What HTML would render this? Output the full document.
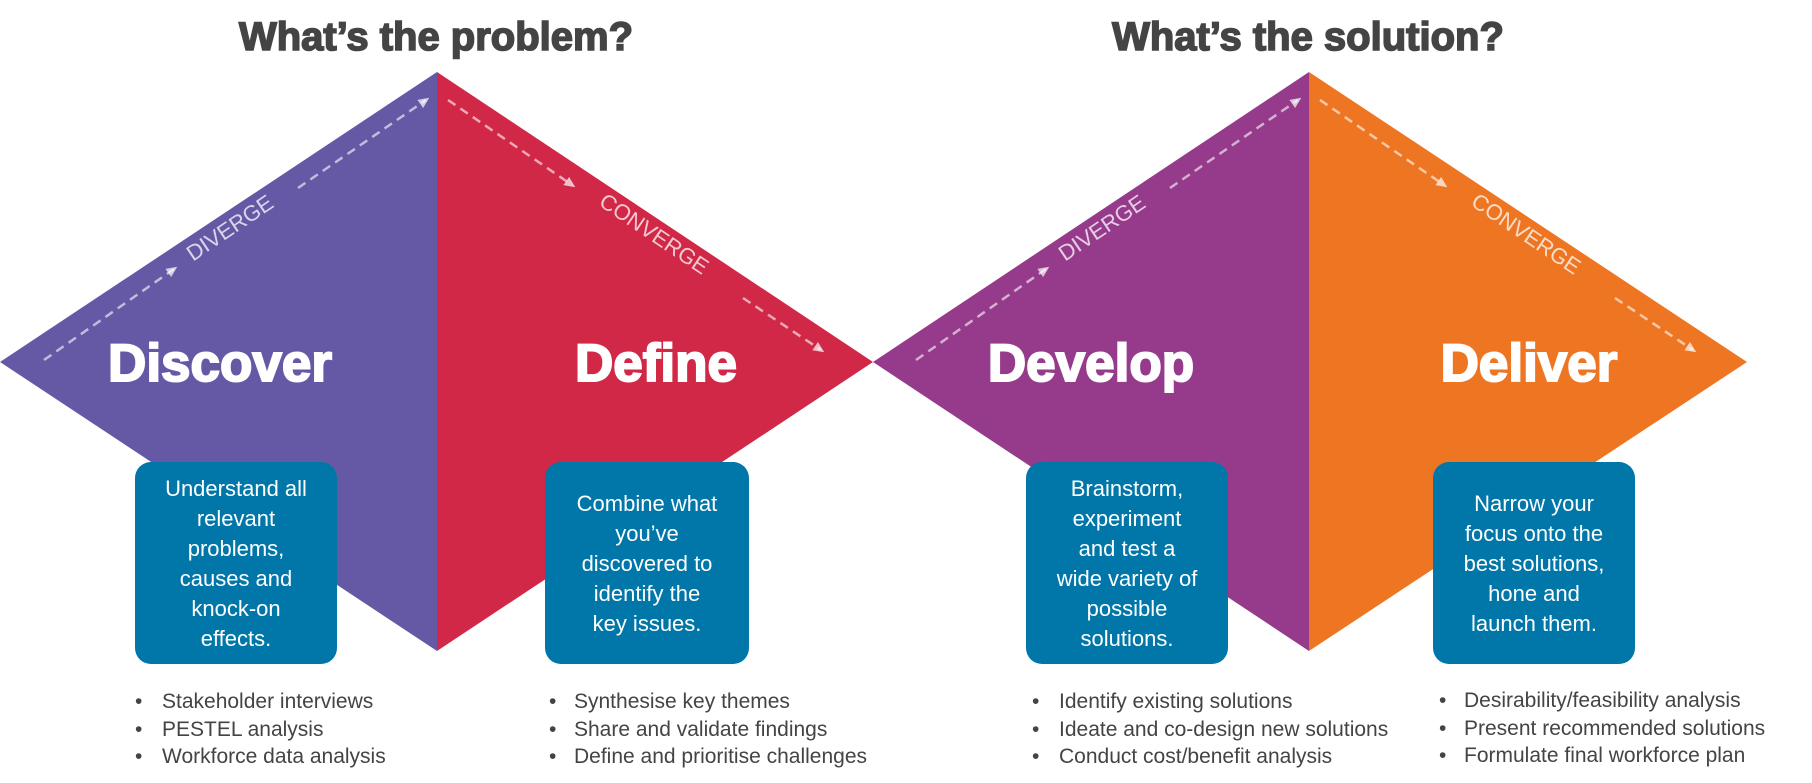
<!DOCTYPE html>
<html><head><meta charset="utf-8"><style>
html,body{margin:0;padding:0;background:#fff}
svg{display:block}
text{font-family:"Liberation Sans",Arial,sans-serif}
</style></head><body>
<svg width="1812" height="783" viewBox="0 0 1812 783" xmlns="http://www.w3.org/2000/svg">
<defs>
<marker id="a" markerWidth="12" markerHeight="12" refX="7" refY="6" orient="auto" markerUnits="userSpaceOnUse"><path d="M0,1 L11,6 L0,11 z" fill="rgba(255,255,255,0.7)"/></marker>
</defs>
<g font-size="40" font-weight="bold" fill="#444" stroke="#444" stroke-width="1.6" text-anchor="middle">
<text x="436" y="50">What’s the problem?</text>
<text x="1308" y="50">What’s the solution?</text>
</g>

<polygon points="0,362 437,72 437,651" fill="#6559A6"/>
<polygon points="437,72 873,362 437,651" fill="#D22847"/>
<polygon points="873,362 1309,72 1309,651" fill="#963B8C"/>
<polygon points="1309,72 1747,362 1309,651" fill="#EE7623"/>

<g stroke="rgba(255,255,255,0.6)" stroke-width="2.5" stroke-dasharray="9,6" fill="none">
<line x1="44" y1="360" x2="174" y2="269" marker-end="url(#a)"/>
<line x1="298" y1="188" x2="426" y2="100" marker-end="url(#a)"/>
<line x1="448" y1="100" x2="572" y2="185" marker-end="url(#a)"/>
<line x1="743" y1="298" x2="821" y2="350" marker-end="url(#a)"/>
<line x1="916" y1="360" x2="1046" y2="269" marker-end="url(#a)"/>
<line x1="1170" y1="188" x2="1298" y2="100" marker-end="url(#a)"/>
<line x1="1320" y1="100" x2="1444" y2="185" marker-end="url(#a)"/>
<line x1="1615" y1="298" x2="1693" y2="350" marker-end="url(#a)"/>
</g>
<g font-size="22" fill="rgba(255,255,255,0.75)" text-anchor="middle">
<text transform="translate(234,234) rotate(-34)">DIVERGE</text>
<text transform="translate(650,240) rotate(34)">CONVERGE</text>
<text transform="translate(1106,234) rotate(-34)">DIVERGE</text>
<text transform="translate(1522,240) rotate(34)">CONVERGE</text>
</g>
<g font-size="53" font-weight="bold" fill="#fff" stroke="#fff" stroke-width="2" text-anchor="middle">
<text x="220" y="381">Discover</text>
<text x="656" y="381">Define</text>
<text x="1091" y="381">Develop</text>
<text x="1529" y="381">Deliver</text>
</g>
<g fill="#0077A8">
<rect x="135" y="462" width="202" height="202" rx="16"/>
<rect x="545" y="462" width="204" height="202" rx="16"/>
<rect x="1026" y="462" width="202" height="202" rx="16"/>
<rect x="1433" y="462" width="202" height="202" rx="16"/>
</g>
<g font-size="22" fill="#fff" text-anchor="middle">
<text x="236" y="496">Understand all</text>
<text x="236" y="526">relevant</text>
<text x="236" y="556">problems,</text>
<text x="236" y="586">causes and</text>
<text x="236" y="616">knock-on</text>
<text x="236" y="646">effects.</text>
<text x="647" y="511">Combine what</text>
<text x="647" y="541">you’ve</text>
<text x="647" y="571">discovered to</text>
<text x="647" y="601">identify the</text>
<text x="647" y="631">key issues.</text>
<text x="1127" y="496">Brainstorm,</text>
<text x="1127" y="526">experiment</text>
<text x="1127" y="556">and test a</text>
<text x="1127" y="586">wide variety of</text>
<text x="1127" y="616">possible</text>
<text x="1127" y="646">solutions.</text>
<text x="1534" y="511">Narrow your</text>
<text x="1534" y="541">focus onto the</text>
<text x="1534" y="571">best solutions,</text>
<text x="1534" y="601">hone and</text>
<text x="1534" y="631">launch them.</text>
</g>
<g font-size="21" fill="#444">
<text x="135" y="708">•</text><text x="162" y="708">Stakeholder interviews</text>
<text x="135" y="736">•</text><text x="162" y="736">PESTEL analysis</text>
<text x="135" y="763">•</text><text x="162" y="763">Workforce data analysis</text>
<text x="549" y="708">•</text><text x="574" y="708">Synthesise key themes</text>
<text x="549" y="736">•</text><text x="574" y="736">Share and validate findings</text>
<text x="549" y="763">•</text><text x="574" y="763">Define and prioritise challenges</text>
<text x="1032" y="708">•</text><text x="1059" y="708">Identify existing solutions</text>
<text x="1032" y="736">•</text><text x="1059" y="736">Ideate and co-design new solutions</text>
<text x="1032" y="763">•</text><text x="1059" y="763">Conduct cost/benefit analysis</text>
<text x="1439" y="707">•</text><text x="1464" y="707">Desirability/feasibility analysis</text>
<text x="1439" y="735">•</text><text x="1464" y="735">Present recommended solutions</text>
<text x="1439" y="762">•</text><text x="1464" y="762">Formulate final workforce plan</text>
</g>
</svg>
</body></html>
